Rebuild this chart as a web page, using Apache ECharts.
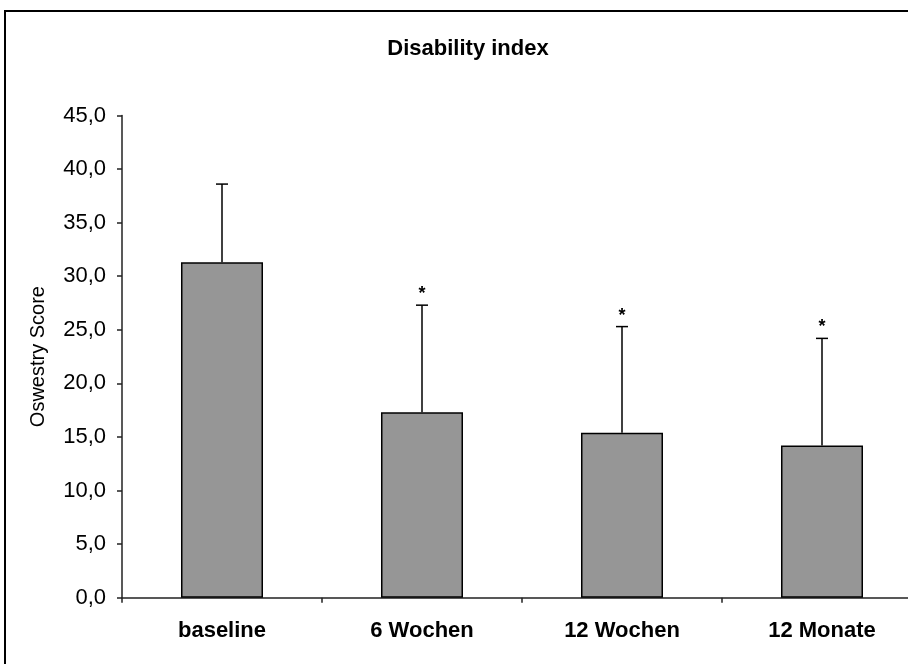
<!DOCTYPE html>
<html>
<head>
<meta charset="utf-8">
<script src="https://cdn.jsdelivr.net/npm/echarts@6/dist/echarts.min.js"></script>
<style>
  html, body { margin: 0; padding: 0; background: #fff; }
  #chart { width: 908px; height: 664px; }
</style>
</head>
<body>
<div id="chart"></div>
<script>
// Oswestry disability index: mean score and standard deviation per time point
const categories = ['baseline', '6 Wochen', '12 Wochen', '12 Monate'];
const meanScores = [31.3, 17.3, 15.4, 14.2];
const sdScores = [7.3, 10.0, 9.9, 10.0];
const significant = [false, true, true, true];
const yTicks = { min: 0, max: 45, step: 5 };

const FONT = '"Liberation Sans", Arial, sans-serif';

const chart = echarts.init(document.getElementById('chart'));

const errorData = categories.map((c, i) => [i, meanScores[i], meanScores[i] + sdScores[i], significant[i] ? 1 : 0]);

chart.setOption({
  animation: false,
  backgroundColor: '#fff',
  title: {
    text: 'Disability index',
    left: 463,
    top: 33,
    textAlign: 'center',
    textStyle: { fontFamily: FONT, fontSize: 22, fontWeight: 'bold', color: '#000' }
  },
  grid: { left: 122, top: 115.5, width: 800, bottom: 66.3, containLabel: false, outerBoundsMode: 'none' },
  xAxis: {
    type: 'category',
    data: categories,
    boundaryGap: true,
    axisLine: { lineStyle: { color: '#222', width: 1.5 } },
    axisTick: { show: true, interval: 0, length: 5, lineStyle: { color: '#222', width: 1.5 } },
    axisLabel: { interval: 0, margin: 22, fontFamily: FONT, fontSize: 22, fontWeight: 'bold', color: '#000' },
    splitLine: { show: false }
  },
  yAxis: {
    type: 'value',
    min: yTicks.min,
    max: yTicks.max,
    interval: yTicks.step,
    name: 'Oswestry Score',
    nameLocation: 'middle',
    nameRotate: 90,
    nameGap: 74,
    nameTextStyle: { fontFamily: FONT, fontSize: 20, color: '#000' },
    axisLine: { show: true, lineStyle: { color: '#222', width: 1.5 } },
    axisTick: { show: true, length: 5, lineStyle: { color: '#222', width: 1.5 } },
    axisLabel: {
      margin: 16,
      fontFamily: FONT,
      fontSize: 22,
      color: '#000',
      formatter: v => v.toFixed(1).replace('.', ',')
    },
    splitLine: { show: false }
  },
  series: [
    {
      type: 'bar',
      data: meanScores,
      barWidth: 82,
      itemStyle: { color: '#969696', borderColor: '#000', borderWidth: 1.5 },
      z: 2
    },
    {
      type: 'custom',
      data: errorData,
      z: 3,
      renderItem: (params, api) => {
        const base = api.coord([api.value(0), api.value(1)]);
        const top = api.coord([api.value(0), api.value(2)]);
        const style = { stroke: '#000', lineWidth: 1.5 };
        const children = [
          { type: 'line', shape: { x1: base[0], y1: base[1], x2: top[0], y2: top[1] }, style },
          { type: 'line', shape: { x1: top[0] - 6, y1: top[1], x2: top[0] + 6, y2: top[1] }, style }
        ];
        if (api.value(3)) {
          children.push({
            type: 'text',
            x: top[0],
            y: top[1] - 11,
            style: {
              text: '*',
              fontFamily: FONT,
              fontSize: 18,
              fontWeight: 'bold',
              fill: '#000',
              align: 'center',
              verticalAlign: 'middle'
            }
          });
        }
        return { type: 'group', children };
      }
    }
  ],
  graphic: [
    {
      type: 'rect',
      shape: { x: 5, y: 11, width: 1000, height: 1000 },
      style: { fill: 'none', stroke: '#000', lineWidth: 2 },
      silent: true
    }
  ]
});
</script>
</body>
</html>
